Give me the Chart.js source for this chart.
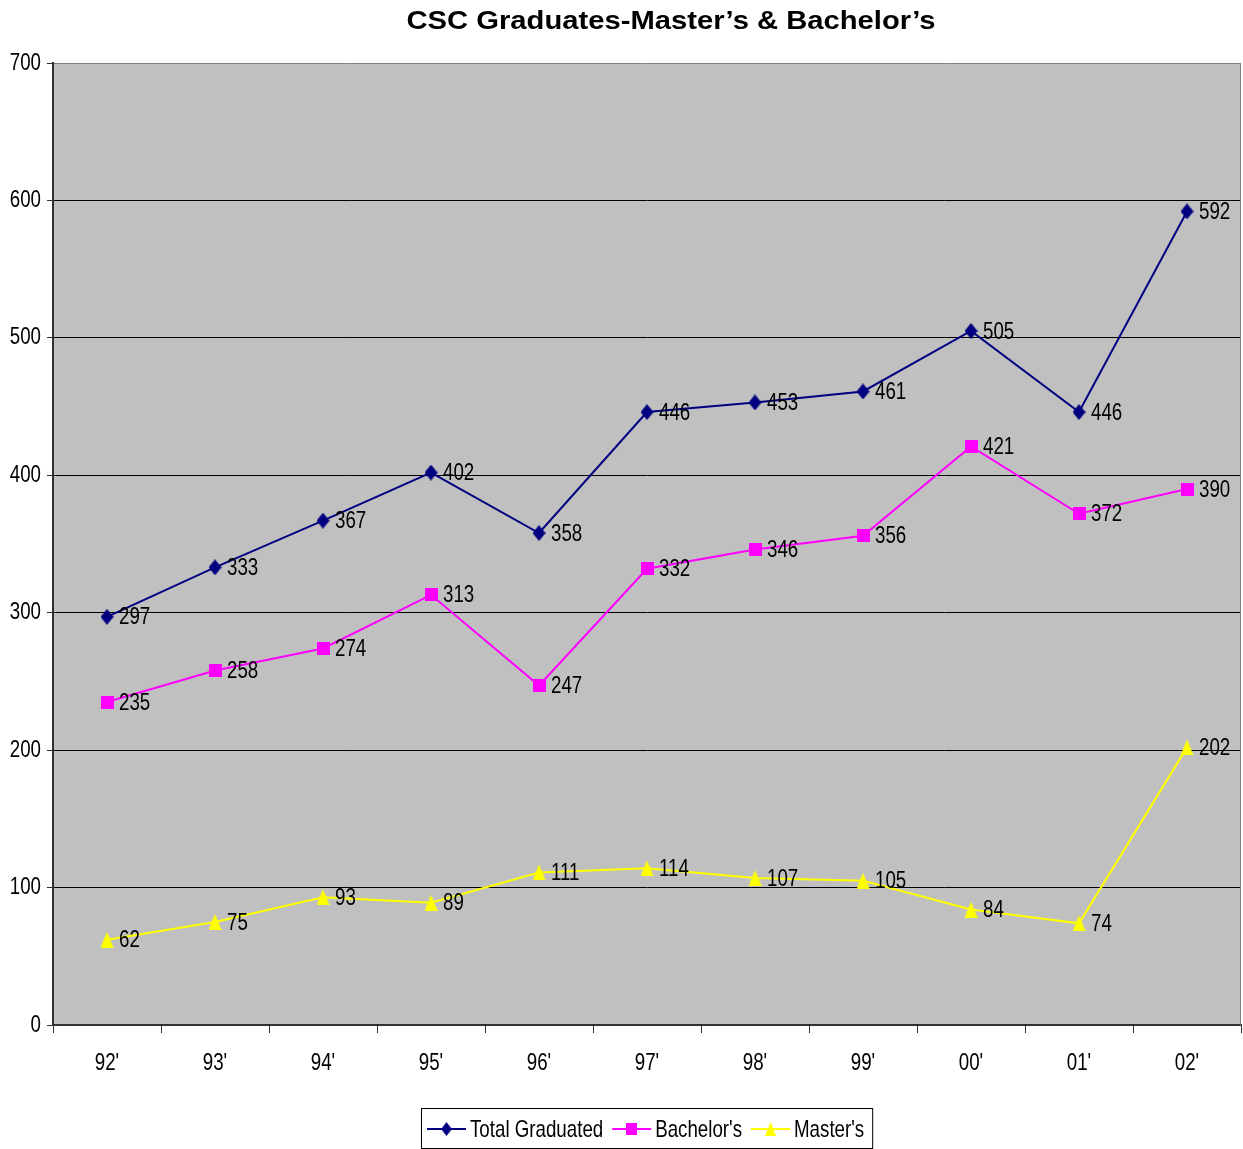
<!DOCTYPE html>
<html>
<head>
<meta charset="utf-8">
<script src="https://cdn.jsdelivr.net/npm/chart.js@4"></script>
<style>
  html, body { margin: 0; padding: 0; background: #ffffff; }
  #wrap { width: 1243px; height: 1149px; position: relative; }
</style>
</head>
<body>
<div id="wrap"><canvas id="c" width="1243" height="1149"></canvas></div>
<script>
const years = ["92'", "93'", "94'", "95'", "96'", "97'", "98'", "99'", "00'", "01'", "02'"];
const totalGraduated = [297, 333, 367, 402, 358, 446, 453, 461, 505, 446, 592];
const bachelors = [235, 258, 274, 313, 247, 332, 346, 356, 421, 372, 390];
const masters = [62, 75, 93, 89, 111, 114, 107, 105, 84, 74, 202];
const yTicks = [0, 100, 200, 300, 400, 500, 600, 700];

const SANS = '"Liberation Sans", Arial, sans-serif';
const TITLE = 'CSC Graduates-Master\u2019s & Bachelor\u2019s';
const NARROW_SCALE = 0.78;   // condensed look, like Arial Narrow
const LABEL_SIZE = 24;

// Text drawn horizontally condensed
function narrowText(ctx, text, x, y, align) {
  ctx.save();
  ctx.font = LABEL_SIZE + 'px ' + SANS;
  ctx.textBaseline = 'middle';
  ctx.textAlign = 'left';
  const w = ctx.measureText(text).width * NARROW_SCALE;
  let left = x;
  if (align === 'center') left = x - w / 2;
  else if (align === 'right') left = x - w;
  ctx.translate(left, y);
  ctx.scale(NARROW_SCALE, 1);
  ctx.fillText(text, 0, 0);
  ctx.restore();
  return w;
}
function narrowWidth(ctx, text) {
  ctx.save();
  ctx.font = LABEL_SIZE + 'px ' + SANS;
  const w = ctx.measureText(text).width * NARROW_SCALE;
  ctx.restore();
  return w;
}

// Marker sprites: diamond, square, tall triangle
function makeMarker(shape, color, w, h) {
  const cv = document.createElement('canvas');
  cv.width = w; cv.height = h;
  const c = cv.getContext('2d');
  c.fillStyle = color;
  c.beginPath();
  if (shape === 'diamond') {
    c.moveTo(w / 2, 0); c.lineTo(w, h / 2); c.lineTo(w / 2, h); c.lineTo(0, h / 2);
  } else if (shape === 'square') {
    c.rect(0, 0, w, h);
  } else {
    c.moveTo(w / 2, 0); c.lineTo(w, h); c.lineTo(0, h);
  }
  c.closePath();
  c.fill();
  return cv;
}
const diamondMark = makeMarker('diamond', '#000080', 13, 16);
const squareMark = makeMarker('square', '#ff00ff', 13, 13);
const triangleMark = makeMarker('triangle', '#ffff00', 13, 16);

// Gray plot area, axis labels, value labels, title and boxed legend
const decor = {
  id: 'decor',
  beforeDraw(chart) {
    const { ctx, chartArea: a } = chart;
    ctx.save();
    ctx.fillStyle = '#ffffff';
    ctx.fillRect(0, 0, chart.width, chart.height);
    ctx.fillStyle = '#c0c0c0';
    ctx.fillRect(a.left, a.top, a.right - a.left, a.bottom - a.top);
    ctx.restore();
  },
  afterDraw(chart) {
    const { ctx, chartArea: a } = chart;
    const xs = chart.scales.x, ys = chart.scales.y;
    ctx.save();
    // right border of plot area
    ctx.strokeStyle = '#808080';
    ctx.lineWidth = 1;
    ctx.beginPath();
    ctx.moveTo(a.right - 0.5, a.top);
    ctx.lineTo(a.right - 0.5, a.bottom);
    ctx.stroke();

    ctx.fillStyle = '#000000';
    // axis tick labels
    years.forEach((lab, i) => narrowText(ctx, lab, xs.getPixelForValue(i), 1063, 'center'));
    yTicks.forEach(v => narrowText(ctx, String(v), 41, ys.getPixelForValue(v), 'right'));

    // value labels
    chart.data.datasets.forEach((ds, i) => {
      const meta = chart.getDatasetMeta(i);
      meta.data.forEach((pt, j) => {
        narrowText(ctx, String(ds.data[j]), pt.x + 12, pt.y + 1, 'left');
      });
    });

    // title
    ctx.save();
    ctx.font = 'bold 26px ' + SANS;
    ctx.textBaseline = 'middle';
    ctx.textAlign = 'left';
    const tw = ctx.measureText(TITLE).width;
    const tScale = 529 / tw;
    ctx.translate(671 - 529 / 2, 22);
    ctx.scale(tScale, 1);
    ctx.fillText(TITLE, 0, 0);
    ctx.restore();

    // legend
    const lineLen = 39, gapText = 4, gapItem = 9, padL = 6, padR = 8;
    const widths = chart.data.datasets.map(ds => lineLen + gapText + narrowWidth(ctx, ds.label));
    const boxW = widths.reduce((s, w) => s + w, 0) + gapItem * (widths.length - 1) + padL + padR;
    const boxX = 421, boxY = 1108, boxH = 40;
    ctx.fillStyle = '#ffffff';
    ctx.fillRect(boxX, boxY, boxW, boxH);
    ctx.strokeStyle = '#000000';
    ctx.lineWidth = 1;
    ctx.strokeRect(boxX + 0.5, boxY + 0.5, boxW, boxH);
    let x = boxX + padL;
    const cy = boxY + 21;
    chart.data.datasets.forEach((ds, i) => {
      ctx.strokeStyle = ds.borderColor;
      ctx.lineWidth = 2;
      ctx.beginPath();
      ctx.moveTo(x, cy);
      ctx.lineTo(x + lineLen, cy);
      ctx.stroke();
      const img = ds.pointStyle;
      const mw = img.width * 0.85, mh = img.height * 0.85;
      ctx.drawImage(img, x + lineLen / 2 - mw / 2, cy - mh / 2, mw, mh);
      ctx.fillStyle = '#000000';
      narrowText(ctx, ds.label, x + lineLen + gapText, cy + 1, 'left');
      x += widths[i] + gapItem;
    });
    ctx.restore();
  }
};

const cfg = {
  type: 'line',
  data: {
    labels: years,
    datasets: [
      {
        label: 'Total Graduated',
        data: totalGraduated,
        borderColor: '#000080',
        backgroundColor: '#000080',
        pointStyle: diamondMark,
        pointRadius: 7,
        borderWidth: 2,
        tension: 0
      },
      {
        label: "Bachelor's",
        data: bachelors,
        borderColor: '#ff00ff',
        backgroundColor: '#ff00ff',
        pointStyle: squareMark,
        pointRadius: 7,
        borderWidth: 2,
        tension: 0
      },
      {
        label: "Master's",
        data: masters,
        borderColor: '#ffff00',
        backgroundColor: '#ffff00',
        pointStyle: triangleMark,
        pointRadius: 8,
        borderWidth: 2,
        tension: 0
      }
    ]
  },
  options: {
    responsive: false,
    animation: false,
    devicePixelRatio: 1,
    layout: { autoPadding: false, padding: { top: 63, right: 2, left: 0, bottom: 0 } },
    plugins: {
      legend: { display: false },
      title: { display: false },
      tooltip: { enabled: false }
    },
    scales: {
      x: {
        offset: true,
        grid: {
          offset: true,
          drawOnChartArea: false,
          drawTicks: true,
          tickLength: 8,
          color: '#333333'
        },
        border: { color: '#333333', width: 2 },
        ticks: { display: false, autoSkip: false },
        afterFit(scale) { scale.height = 124; }
      },
      y: {
        min: 0,
        max: 700,
        afterBuildTicks(scale) { scale.ticks = yTicks.map(v => ({ value: v })); },
        grid: {
          color: ctx => (ctx.tick && ctx.tick.value === 700 ? '#808080' : '#000000'),
          lineWidth: 1,
          tickLength: 6,
          tickColor: '#333333'
        },
        border: { color: '#333333', width: 2 },
        ticks: { display: false },
        afterFit(scale) { scale.width = 53; }
      }
    }
  },
  plugins: [decor]
};

new Chart(document.getElementById('c'), cfg);
</script>
</body>
</html>
